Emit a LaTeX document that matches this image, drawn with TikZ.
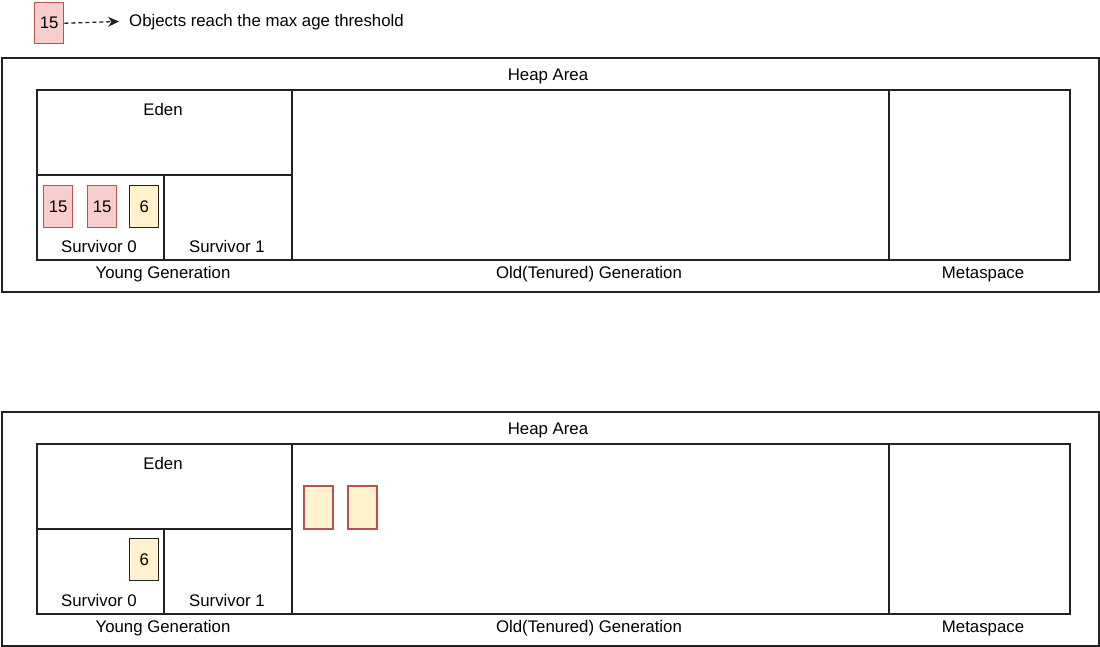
\documentclass[tikz,border=0pt]{standalone}
\usepackage{fontspec}
\setmainfont{Liberation Sans}
\usetikzlibrary{arrows.meta}
\definecolor{linec}{HTML}{222222}
\definecolor{redfill}{HTML}{F8CECC}
\definecolor{redline}{HTML}{B85450}
\definecolor{yelfill}{HTML}{FFF2CC}
\tikzset{
  area/.style={draw=linec, line width=1.6pt, inner sep=0pt, anchor=north west},
  oldobj/.style={draw=redline, fill=redfill, line width=1.4pt, inner sep=0pt, anchor=north west, minimum width=29pt, minimum height=42pt, font=\fontsize{16.8}{19}\selectfont},
  youngobj/.style={draw=linec, fill=yelfill, line width=1.4pt, inner sep=0pt, anchor=north west, minimum width=29pt, minimum height=42pt, font=\fontsize{16.8}{19}\selectfont},
  movedobj/.style={draw=redline, fill=yelfill, line width=1.6pt, inner sep=0pt, anchor=north west, minimum width=29pt, minimum height=43pt},
  lbl/.style={inner sep=0pt, font=\fontsize{16.8}{19}\selectfont},
}
\newcommand\myheap[1]{%
  \node[area, minimum width=1097pt, minimum height=234pt] (#1heap) at (1,57) {};
  \node[lbl] (#1heaplbl) at (548,76) {Heap Area};
  \node[area, minimum width=255pt, minimum height=85pt] (#1eden) at (36,89) {};
  \node[lbl] (#1edenlbl) at (163,109) {Eden};
  \node[area, minimum width=127pt, minimum height=85pt] (#1sz) at (36,174) {};
  \node[area, minimum width=128pt, minimum height=85pt] (#1so) at (163,174) {};
  \node[lbl] (#1szlbl) at (99,246) {Survivor 0};
  \node[lbl] (#1solbl) at (227,246) {Survivor 1};
  \node[area, minimum width=597pt, minimum height=170pt] (#1old) at (291,89) {};
  \node[area, minimum width=181pt, minimum height=170pt] (#1meta) at (888,89) {};
  \node[lbl] (#1younglbl) at (163,274) {Young Generation};
  \node[lbl] (#1oldlbl) at (589,274) {Old(Tenured) Generation};
  \node[lbl] (#1metalbl) at (983,274) {Metaspace};
}
\begin{document}
\begin{tikzpicture}[x=1pt,y=-1pt]
\useasboundingbox (0,0) rectangle (1100,646);
% legend
\node[oldobj, minimum height=41pt] (leg) at (34,2) {15};
\coordinate (legend-tip) at (119,21.5);
\draw[linec, line width=1.3pt, dash pattern=on 4pt off 3pt, -{Stealth[length=11pt,width=10pt]}] (leg.east) -- (legend-tip);
\node[lbl, anchor=west] (legtext) at (129,22) {Objects reach the max age threshold};
% top heap
\begin{scope}
  \myheap{t}
  \node[oldobj] (t15a) at (43,185) {15};
  \node[oldobj] (t15b) at (87,185) {15};
  \node[youngobj] (t6) at (129,185) {6};
\end{scope}
% bottom heap
\begin{scope}[shift={(0,354)}]
  \myheap{b}
  \node[youngobj] (b6) at (129,184) {6};
  \node[movedobj] (bm1) at (303,131) {};
  \node[movedobj] (bm2) at (347,131) {};
\end{scope}
\end{tikzpicture}
\end{document}
